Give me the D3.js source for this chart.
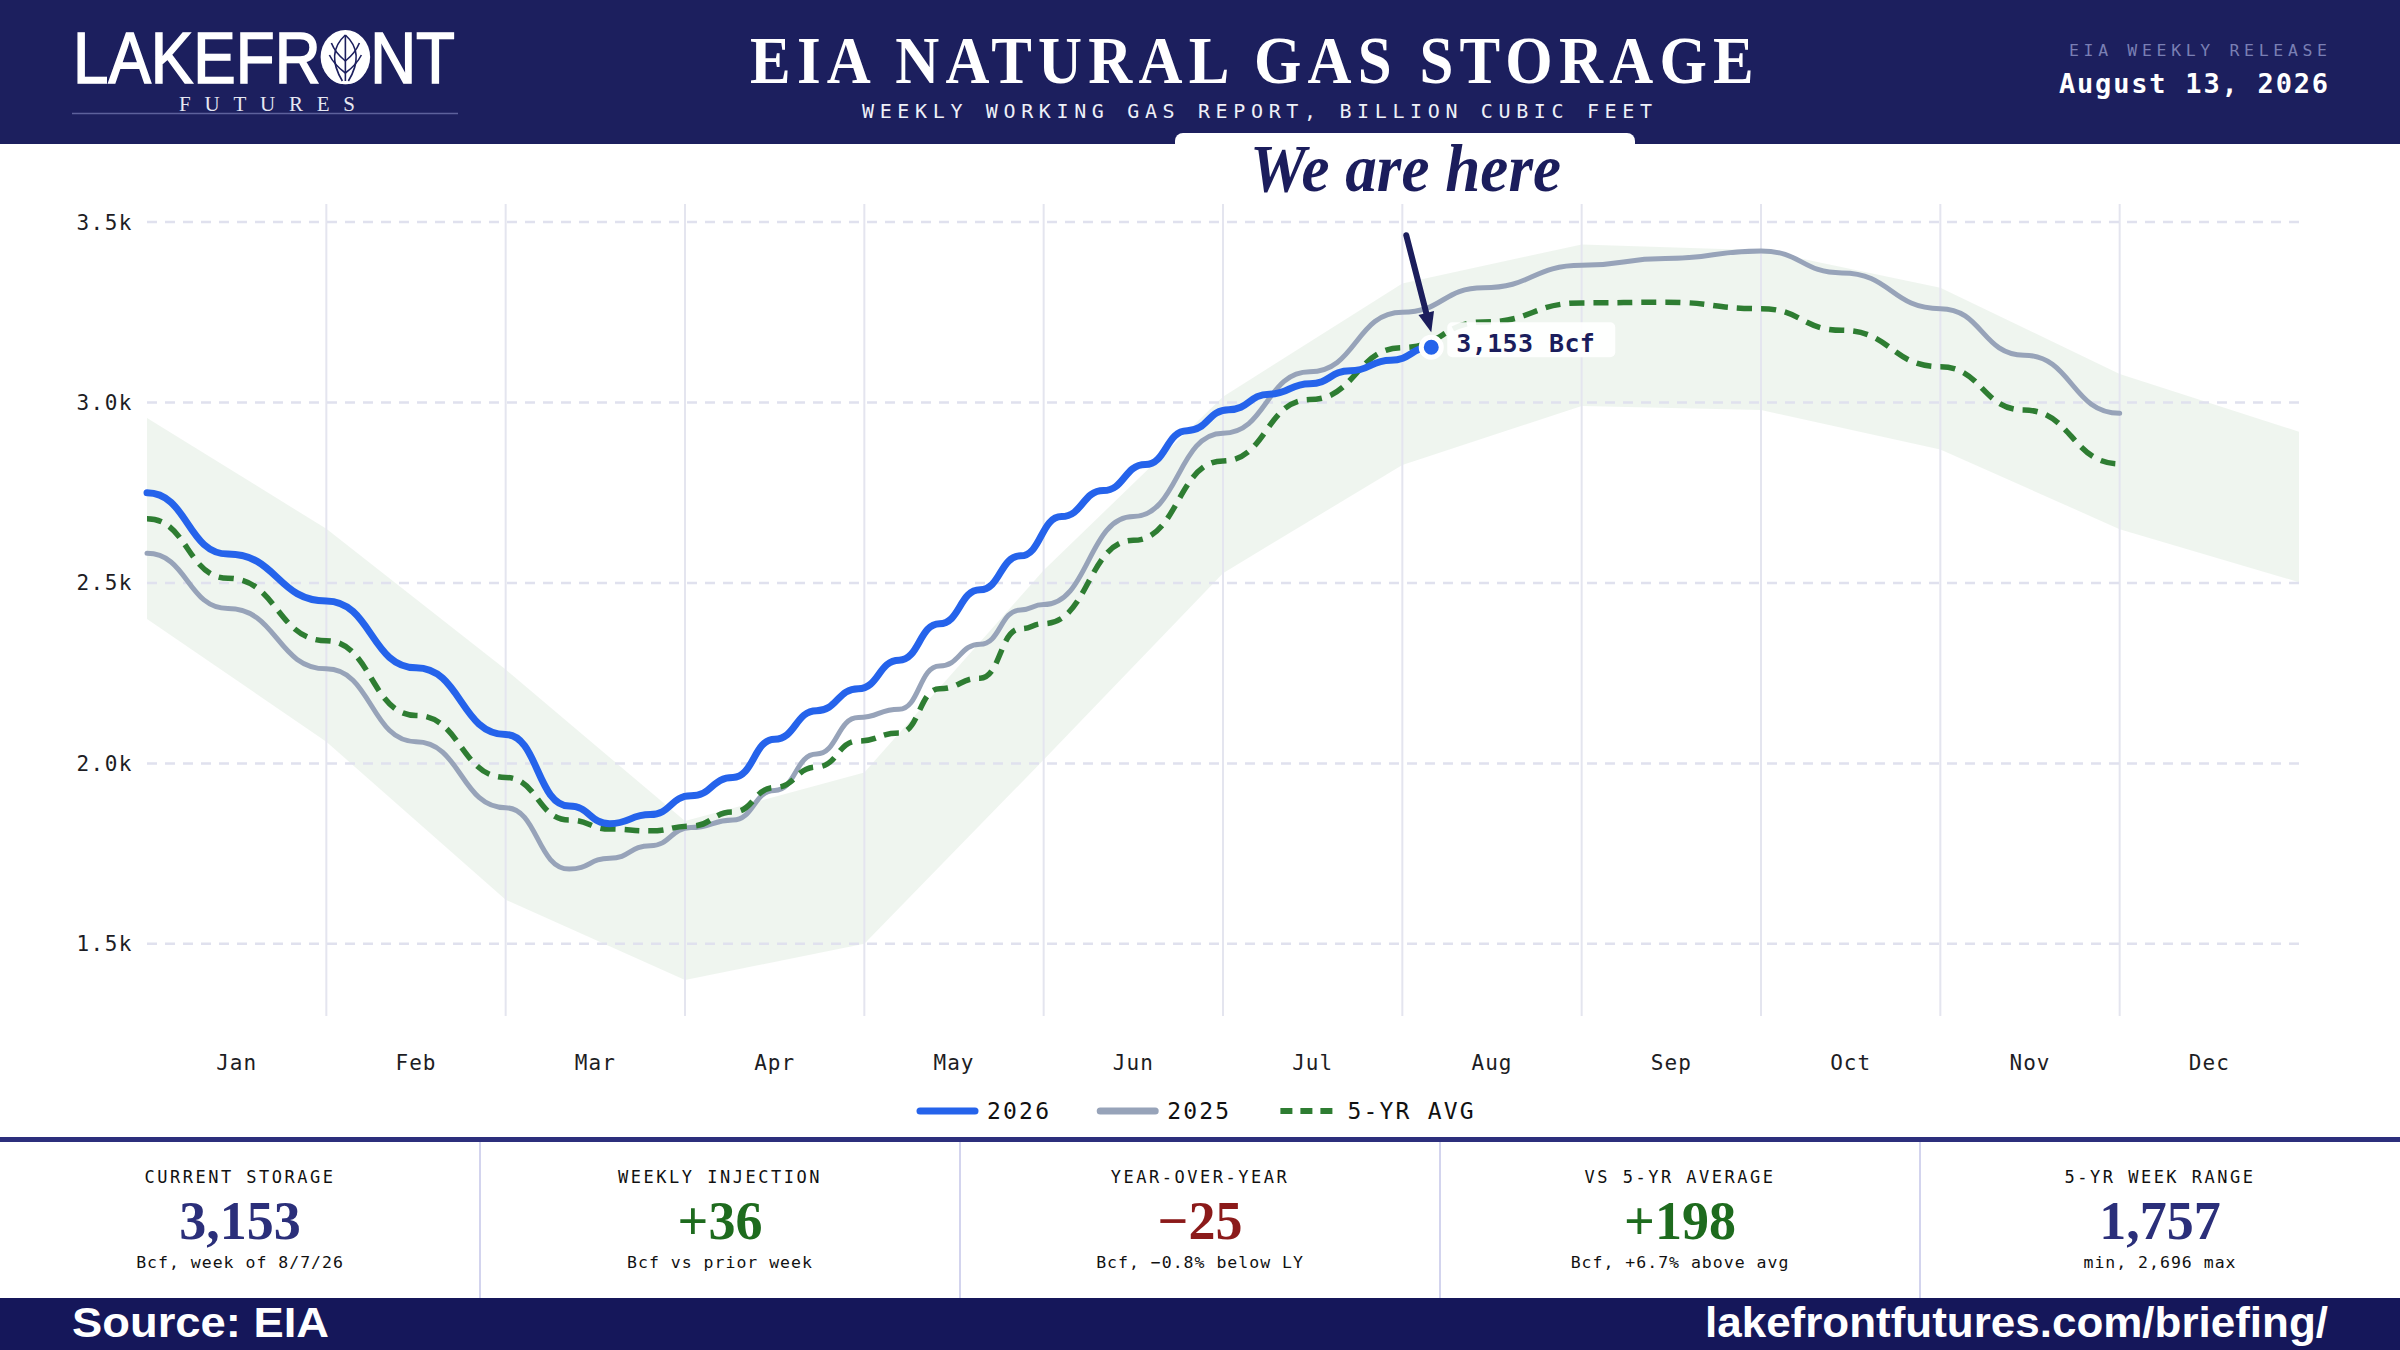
<!DOCTYPE html>
<html>
<head>
<meta charset="utf-8">
<title>EIA Natural Gas Storage</title>
<script src="https://cdn.jsdelivr.net/npm/d3@7"></script>
<style>
  html, body { margin: 0; padding: 0; background: #fff; }
  svg { display: block; }
</style>
</head>
<body>
<svg id="chart" width="2400" height="1350"></svg>
<script>
/* EIA weekly storage chart: 2026 vs 2025 vs 5-yr avg with 5-yr min/max band. */

var MONTHS = ["Jan", "Feb", "Mar", "Apr", "May", "Jun", "Jul", "Aug", "Sep", "Oct", "Nov", "Dec"];
var Y_TICKS = [1500, 2000, 2500, 3000, 3500];

var DATES_2026 = ["01-01", "01-15", "02-01", "02-15", "03-01", "03-12", "03-19", "03-26", "04-02", "04-09",
  "04-16", "04-23", "04-30", "05-07", "05-14", "05-21", "05-28", "06-04", "06-11", "06-18", "06-25",
  "07-02", "07-09", "07-16", "07-23", "07-30", "08-06"];
var STORAGE_2026 = [2750, 2580, 2450, 2265, 2080, 1882, 1833, 1858, 1910, 1961,
  2067, 2146, 2207, 2286, 2387, 2481, 2575, 2684, 2756, 2828, 2922,
  2980, 3023, 3052, 3088, 3117, 3153];

var DATES_PRIOR = ["01-01", "01-15", "02-01", "02-15", "03-01", "03-12", "03-19", "03-26", "04-02", "04-09",
  "04-16", "04-23", "04-30", "05-07", "05-14", "05-21", "05-28", "06-01", "06-16", "07-01",
  "07-16", "08-01", "08-15", "09-01", "09-15", "10-01", "10-15", "11-01", "11-15", "12-01"];
var STORAGE_2025 = [2582, 2429, 2262, 2060, 1877, 1707, 1737, 1772, 1822, 1843,
  1925, 2026, 2127, 2150, 2270, 2330, 2425, 2440, 2684, 2915,
  3085, 3250, 3318, 3380, 3399, 3420, 3359, 3260, 3131, 2970];
var STORAGE_5YR = [2678, 2513, 2340, 2133, 1961, 1843, 1818, 1813, 1826, 1865,
  1933, 1990, 2062, 2084, 2207, 2236, 2373, 2387, 2618, 2838,
  3008, 3152, 3223, 3276, 3278, 3260, 3200, 3099, 2979, 2830];

// 5-yr range at each month start (last entry = year end)
var RANGE_MAX = [2957, 2650, 2260, 1840, 1975, 2535, 3016, 3330, 3438, 3422, 3318, 3079, 2919];
var RANGE_MIN = [2400, 2060, 1622, 1400, 1500, 2010, 2527, 2827, 2990, 2979, 2870, 2649, 2502];

var LEGEND_LABELS = ["2026", "2025", "5-YR AVG"];

var CARD_LABELS = ["CURRENT STORAGE", "WEEKLY INJECTION", "YEAR-OVER-YEAR", "VS 5-YR AVERAGE", "5-YR WEEK RANGE"];
var CARD_VALUES = ["3,153", "+36", "\u221225", "+198", "1,757"];
var CARD_NOTES = ["Bcf, week of 8/7/26", "Bcf vs prior week", "Bcf, \u22120.8% below LY", "Bcf, +6.7% above avg", "min, 2,696 max"];

(function () {
  "use strict";

  var W = 2400, H = 1350;
  var NAVY = "#1c1f5e", INK = "#1b1d5c", FOOT = "#15175a";
  var BLUE = "#2563eb", GREY = "#97a3b9", GREEN = "#2e7d32";
  var MONO = "'DejaVu Sans Mono', monospace";
  var SERIF = "'Liberation Serif', serif";
  var SANS = "'Liberation Sans', sans-serif";

  var svg = d3.select("#chart");

  function monthPos(md) {
    var p = md.split("-"), mo = +p[0] - 1, day = +p[1];
    var dim = new Date(2026, mo + 1, 0).getDate();
    return mo + (day - 1) / dim;
  }
  function zip(dates, vals) {
    return dates.map(function (d, i) { return { m: monthPos(d), v: vals[i] }; });
  }

  /* ---------- header ---------- */
  svg.append("rect").attr("width", W).attr("height", 144).attr("fill", NAVY);

  var logo = svg.append("text")
    .attr("x", 73).attr("y", 83)
    .attr("font-family", SANS).attr("font-size", 72)
    .attr("textLength", 382).attr("lengthAdjust", "spacingAndGlyphs")
    .attr("fill", "#fff").attr("stroke", "#fff").attr("stroke-width", 1.6)
    .text("LAKEFRONT");
  var ob = logo.node().getExtentOfChar(6);
  var ocx = ob.x + ob.width / 2, ocy = 57;
  svg.append("ellipse").attr("cx", ocx).attr("cy", ocy).attr("rx", ob.width / 2).attr("ry", 27).attr("fill", "#fff");
  var leaf = svg.append("g").attr("fill", "none").attr("stroke", NAVY).attr("stroke-width", 1.6);
  leaf.append("path").attr("d", "M" + ocx + "," + (ocy - 22) + " L" + ocx + "," + (ocy + 24));
  [-1, 1].forEach(function (s) {
    leaf.append("path").attr("d", "M" + ocx + "," + (ocy - 22) + " Q" + (ocx + s * 20) + "," + (ocy - 4) + " " + (ocx + s * 3) + "," + (ocy + 24));
    leaf.append("path").attr("d", "M" + ocx + "," + (ocy + 4) + " Q" + (ocx + s * 10) + "," + (ocy - 4) + " " + (ocx + s * 14) + "," + (ocy - 14));
    leaf.append("path").attr("d", "M" + ocx + "," + (ocy + 16) + " Q" + (ocx + s * 11) + "," + (ocy + 8) + " " + (ocx + s * 16) + "," + (ocy - 2));
  });

  svg.append("text").attr("x", 179).attr("y", 111)
    .attr("font-family", SERIF).attr("font-size", 21)
    .attr("textLength", 176).attr("lengthAdjust", "spacing")
    .attr("fill", "#e6e7f2").text("FUTURES");
  svg.append("line").attr("x1", 72).attr("x2", 458).attr("y1", 113.5).attr("y2", 113.5)
    .attr("stroke", "#5d619c").attr("stroke-width", 1.5);

  svg.append("text").attr("x", 750).attr("y", 83)
    .attr("font-family", SERIF).attr("font-weight", "bold").attr("font-size", 68)
    .attr("letter-spacing", 7)
    .attr("textLength", 1010).attr("lengthAdjust", "spacingAndGlyphs")
    .attr("fill", "#fff").text("EIA NATURAL GAS STORAGE");
  svg.append("text").attr("x", 862).attr("y", 118)
    .attr("font-family", MONO).attr("font-size", 20)
    .attr("textLength", 790).attr("lengthAdjust", "spacing")
    .attr("fill", "#eef0f8").text("WEEKLY WORKING GAS REPORT, BILLION CUBIC FEET");

  svg.append("text").attr("x", 2069).attr("y", 56)
    .attr("font-family", MONO).attr("font-size", 16.5)
    .attr("textLength", 258).attr("lengthAdjust", "spacing")
    .attr("fill", "#7a7fb4").text("EIA WEEKLY RELEASE");
  svg.append("text").attr("x", 2059).attr("y", 93)
    .attr("font-family", MONO).attr("font-weight", "bold").attr("font-size", 27)
    .attr("textLength", 269).attr("lengthAdjust", "spacing")
    .attr("fill", "#fff").text("August 13, 2026");

  /* ---------- "We are here" tab ---------- */
  svg.append("rect").attr("x", 1175).attr("y", 133).attr("width", 460).attr("height", 80)
    .attr("rx", 8).attr("fill", "#fff");
  svg.append("text").attr("x", 1250).attr("y", 191)
    .attr("font-family", SERIF).attr("font-weight", "bold").attr("font-style", "italic").attr("font-size", 68)
    .attr("textLength", 311).attr("lengthAdjust", "spacingAndGlyphs")
    .attr("fill", INK).text("We are here");

  /* ---------- plot ---------- */
  var x = d3.scaleLinear().domain([0, 12]).range([147, 2299]);
  var y = d3.scaleLinear().domain([1300, 3550]).range([1016, 204]);

  var plot = svg.append("g");

  // 5-yr min/max band
  var band = RANGE_MAX.map(function (hi, i) { return { m: i, hi: hi, lo: RANGE_MIN[i] }; });
  plot.append("path").datum(band)
    .attr("d", d3.area().x(function (d) { return x(d.m); }).y0(function (d) { return y(d.lo); }).y1(function (d) { return y(d.hi); }))
    .attr("fill", GREEN).attr("fill-opacity", 0.08);

  // grid
  plot.append("g").selectAll("line").data(d3.range(1, 12)).enter().append("line")
    .attr("x1", function (d) { return x(d); }).attr("x2", function (d) { return x(d); })
    .attr("y1", y(3550)).attr("y2", y(1300))
    .attr("stroke", "#e4e5ef").attr("stroke-width", 2);
  plot.append("g").selectAll("line").data(Y_TICKS).enter().append("line")
    .attr("x1", x(0)).attr("x2", x(12))
    .attr("y1", function (d) { return y(d); }).attr("y2", function (d) { return y(d); })
    .attr("stroke", "#e0e1ee").attr("stroke-width", 2.5).attr("stroke-dasharray", "10,8");

  // y axis labels
  var fmtK = function (v) { return d3.format(".1f")(v / 1000) + "k"; };
  plot.append("g").selectAll("text").data(Y_TICKS).enter().append("text")
    .attr("x", 133).attr("y", function (d) { return y(d); }).attr("dy", "0.36em")
    .attr("text-anchor", "end").attr("font-family", MONO).attr("font-size", 21)
    .attr("letter-spacing", 1.5).attr("fill", "#1d1d24").text(fmtK);

  // month labels
  plot.append("g").selectAll("text").data(MONTHS).enter().append("text")
    .attr("x", function (d, i) { return x(i + 0.5); }).attr("y", 1070)
    .attr("text-anchor", "middle").attr("font-family", MONO).attr("font-size", 21)
    .attr("letter-spacing", 1).attr("fill", "#1d1d24").text(function (d) { return d; });

  // series
  var line = d3.line().x(function (d) { return x(d.m); }).y(function (d) { return y(d.v); }).curve(d3.curveBumpX);
  var s2025 = zip(DATES_PRIOR, STORAGE_2025);
  var s5yr = zip(DATES_PRIOR, STORAGE_5YR);
  var s2026 = zip(DATES_2026, STORAGE_2026);

  plot.append("path").datum(s2025).attr("d", line)
    .attr("fill", "none").attr("stroke", GREY).attr("stroke-width", 5).attr("stroke-linecap", "round");
  plot.append("path").datum(s5yr).attr("d", line)
    .attr("fill", "none").attr("stroke", GREEN).attr("stroke-width", 5.5).attr("stroke-dasharray", "15,9");
  plot.append("path").datum(s2026).attr("d", line)
    .attr("fill", "none").attr("stroke", BLUE).attr("stroke-width", 7).attr("stroke-linecap", "round");

  /* ---------- current-week marker ---------- */
  var last = s2026[s2026.length - 1];
  var px = x(last.m), py = y(last.v);

  var ann = svg.append("g");
  ann.append("rect").attr("x", px + 16).attr("y", py - 25).attr("width", 168).attr("height", 35)
    .attr("rx", 5).attr("fill", "#fff").attr("fill-opacity", 0.92);
  ann.append("text").attr("x", px + 25).attr("y", py + 5)
    .attr("font-family", MONO).attr("font-weight", "bold").attr("font-size", 25)
    .attr("letter-spacing", 0.4).attr("fill", INK)
    .text(d3.format(",")(last.v) + " Bcf");

  var ax0 = px - 25, ay0 = py - 112, ax1 = px, ay1 = py - 15;
  var ang = Math.atan2(ay1 - ay0, ax1 - ax0);
  var back = 20, half = 8;
  var bx = ax1 - back * Math.cos(ang), by = ay1 - back * Math.sin(ang);
  ann.append("line").attr("x1", ax0).attr("y1", ay0).attr("x2", bx).attr("y2", by)
    .attr("stroke", INK).attr("stroke-width", 6).attr("stroke-linecap", "round");
  ann.append("path")
    .attr("d", "M" + ax1 + "," + ay1 +
      " L" + (bx + half * Math.sin(ang)) + "," + (by - half * Math.cos(ang)) +
      " L" + (bx - half * Math.sin(ang)) + "," + (by + half * Math.cos(ang)) + "Z")
    .attr("fill", INK);

  ann.append("circle").attr("cx", px).attr("cy", py).attr("r", 10)
    .attr("fill", BLUE).attr("stroke", "#fff").attr("stroke-width", 5);

  /* ---------- legend ---------- */
  var leg = svg.append("g");
  var lx = 920, ly = 1111;
  LEGEND_LABELS.forEach(function (lab, i) {
    var sw = leg.append("line").attr("x1", lx).attr("x2", lx + 55).attr("y1", ly).attr("y2", ly);
    if (i === 0) sw.attr("stroke", BLUE).attr("stroke-width", 7).attr("stroke-linecap", "round");
    if (i === 1) sw.attr("stroke", GREY).attr("stroke-width", 7).attr("stroke-linecap", "round");
    if (i === 2) sw.attr("stroke", GREEN).attr("stroke-width", 6).attr("stroke-dasharray", "12,8");
    var t = leg.append("text").attr("x", lx + 67).attr("y", ly).attr("dy", "0.36em")
      .attr("font-family", MONO).attr("font-size", 23).attr("letter-spacing", 2.2)
      .attr("fill", "#111").text(lab);
    lx += 67 + t.node().getComputedTextLength() + 49;
  });

  /* ---------- stat cards ---------- */
  svg.append("rect").attr("x", 0).attr("y", 1137).attr("width", W).attr("height", 5).attr("fill", "#2c2f7c");

  var colW = W / CARD_LABELS.length;
  var cards = svg.append("g");
  d3.range(1, CARD_LABELS.length).forEach(function (i) {
    cards.append("line").attr("x1", i * colW).attr("x2", i * colW).attr("y1", 1142).attr("y2", 1298)
      .attr("stroke", "#d3d4ee").attr("stroke-width", 2);
  });
  CARD_LABELS.forEach(function (lab, i) {
    var cx = i * colW + colW / 2;
    var val = CARD_VALUES[i];
    var col = val.charAt(0) === "+" ? "#1e6b1e" : (val.charAt(0) === "\u2212" ? "#8b1a1a" : "#2b2f7a");
    cards.append("text").attr("x", cx).attr("y", 1183).attr("text-anchor", "middle")
      .attr("font-family", MONO).attr("font-size", 17).attr("letter-spacing", 2.5)
      .attr("fill", "#111").text(lab);
    cards.append("text").attr("x", cx).attr("y", 1239).attr("text-anchor", "middle")
      .attr("font-family", SERIF).attr("font-weight", "bold").attr("font-size", 54)
      .attr("fill", col).text(val);
    cards.append("text").attr("x", cx).attr("y", 1268).attr("text-anchor", "middle")
      .attr("font-family", MONO).attr("font-size", 16.5).attr("letter-spacing", 1)
      .attr("fill", "#111").text(CARD_NOTES[i]);
  });

  /* ---------- footer ---------- */
  svg.append("rect").attr("x", 0).attr("y", 1298).attr("width", W).attr("height", 52).attr("fill", FOOT);
  svg.append("text").attr("x", 72).attr("y", 1337)
    .attr("font-family", SANS).attr("font-weight", "bold").attr("font-size", 42)
    .attr("textLength", 257).attr("lengthAdjust", "spacingAndGlyphs")
    .attr("fill", "#fff").text("Source: EIA");
  svg.append("text").attr("x", 1705).attr("y", 1337)
    .attr("font-family", SANS).attr("font-weight", "bold").attr("font-size", 42)
    .attr("textLength", 623).attr("lengthAdjust", "spacingAndGlyphs")
    .attr("fill", "#fff").text("lakefrontfutures.com/briefing/");
})();
</script>
</body>
</html>
